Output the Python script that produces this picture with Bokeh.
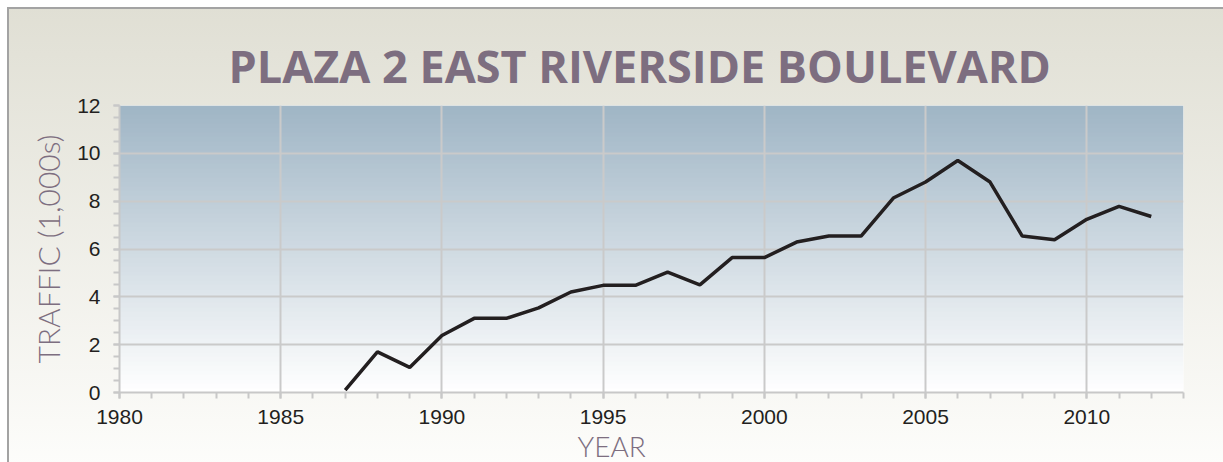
import numpy as np
from bokeh.plotting import figure
from bokeh.models import Range1d, SingleIntervalTicker, Title
from bokeh.embed import file_html
from bokeh.resources import INLINE

years = list(range(1987, 2013))
traffic = [0.1, 1.7, 1.05, 2.38, 3.1, 3.1, 3.54, 4.2, 4.48, 4.48, 5.03, 4.5,
           5.64, 5.64, 6.29, 6.54, 6.54, 8.13, 8.8, 9.7, 8.8, 6.54, 6.39, 7.24,
           7.78, 7.36]

title_text = "PLAZA 2 EAST RIVERSIDE BOULEVARD"
x_title = "YEAR"
y_title = "TRAFFIC (1,000s)"
x_start, x_end = 1980, 2013
y_start, y_end = 0, 12

p = figure(frame_width=1064, frame_height=287, output_backend="svg",
           toolbar_location=None,
           x_range=Range1d(x_start, x_end), y_range=Range1d(y_start, y_end),
           min_border_left=119, min_border_right=40, min_border_top=105,
           min_border_bottom=70)

p.border_fill_color = None
p.styles = {"background": (
    "linear-gradient(#a3a3a3,#a3a3a3) 7px 7px / 100% 2px no-repeat, "
    "linear-gradient(#a3a3a3,#a3a3a3) 7px 7px / 2px 100% no-repeat, "
    "linear-gradient(#e0dfd4,#fdfdfb) 7px 7px / 100% 100% no-repeat, #ffffff")}

# plot-area vertical gradient background
n = 64
t = np.linspace(0, 1, n)[:, None]  # bottom -> top
top_c = np.array([160, 182, 198])
bot_c = np.array([255, 255, 255])
cols = (bot_c * (1 - t) + top_c * t).astype(np.uint32)
img = (255 << 24) | (cols[:, 2] << 16) | (cols[:, 1] << 8) | cols[:, 0]
img = img.reshape(n, 1).astype(np.uint32)
p.image_rgba(image=[img], x=x_start, y=y_start, dw=x_end - x_start,
             dh=y_end - y_start, level="image")

p.line(years, traffic, line_color="#231f20", line_width=3.5)

p.outline_line_color = None
p.title.text = title_text
p.title.align = "left"
p.title.offset = 109
p.title.text_font = "Open Sans"
p.title.text_font_style = "bold"
p.title.text_font_size = "45px"
p.title.text_color = "#7d6e80"
p.title.standoff = 19

for g in (p.xgrid, p.ygrid):
    g.grid_line_color = "#cacaca"
    g.grid_line_width = 2

p.xaxis.ticker = SingleIntervalTicker(interval=5, num_minor_ticks=5)
p.yaxis.ticker = SingleIntervalTicker(interval=2, num_minor_ticks=4)

for ax in (p.xaxis, p.yaxis):
    ax.axis_line_color = "#c8c8c8"
    ax.axis_line_width = 2
    ax.major_tick_line_color = "#c8c8c8"
    ax.minor_tick_line_color = "#c8c8c8"
    ax.major_tick_line_width = 2
    ax.minor_tick_line_width = 2
    ax.major_tick_in = 0
    ax.minor_tick_in = 0
    ax.major_tick_out = 6
    ax.minor_tick_out = 6
    ax.major_label_text_font = "Liberation Sans"
    ax.major_label_text_font_size = "21px"
    ax.major_label_text_color = "#231f20"

p.xaxis.major_label_standoff = 11
p.yaxis.major_label_standoff = 13

p.yaxis.axis_label = y_title
p.yaxis.axis_label_text_font = "Lato Light, Lato"
p.yaxis.axis_label_text_font_style = "normal"
p.yaxis.axis_label_text_font_size = "30px"
p.yaxis.axis_label_text_color = "#7d6e80"
p.yaxis.axis_label_standoff = 8

p.add_layout(Title(text=x_title, align="left", offset=458, standoff=0,
                   text_font="Lato Light, Lato", text_font_style="normal",
                   text_font_size="28px", text_line_height=1.0,
                   text_color="#7d6e80"), "below")

open("out.html", "w").write(file_html(p, INLINE))
